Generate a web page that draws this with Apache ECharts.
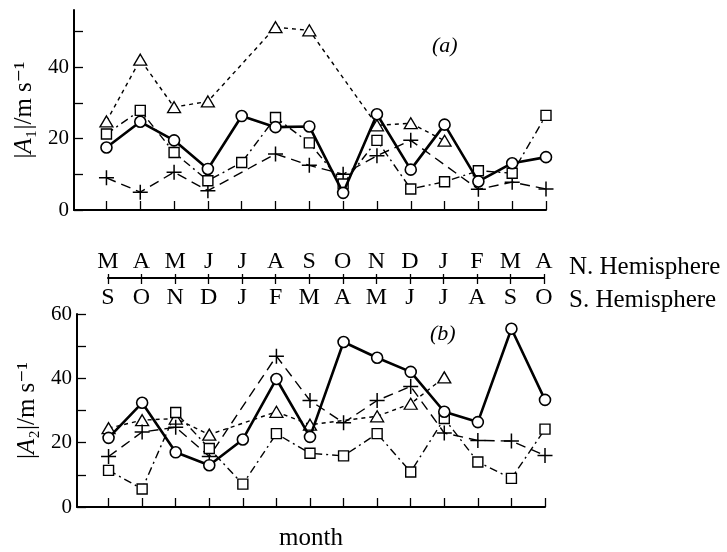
<!DOCTYPE html>
<html>
<head>
<meta charset="utf-8">
<script src="https://cdn.jsdelivr.net/npm/echarts@6/dist/echarts.min.js"></script>
<style>html,body{margin:0;padding:0;background:#fff}#c{width:727px;height:552px}</style>
</head>
<body>
<div id="c"></div>
<script>
// ---- data ----
const monthIdx = [0,1,2,3,4,5,6,7,8,9,10,11,12,13];
const nHemLabels = ['M','A','M','J','J','A','S','O','N','D','J','F','M','A'];
const sHemLabels = ['S','O','N','D','J','F','M','A','M','J','J','A','S','O'];

// panel (a) |A1|
const a1Circle   = [17.5, 24.7, 19.5, 11.5, 26.3, 23.2, 23.4, 4.8, 26.8, 11.3, 23.9, 8.0, 13.1, 14.8];
const a1Square   = [21.3, 27.9, 16.1, 8.2, 13.3, 25.9, 18.8, 7.3, 19.5, 5.9, 7.9, 11.0, 10.3, 26.5];
const a1Cross    = [9.0, 5.0, 10.6, 5.4, null, 15.7, 12.5, 10.0, 15.2, 19.5, null, 5.8, 7.8, 5.9];
const a1Triangle = [24.8, 42.1, 28.8, 30.4, null, 51.2, 50.3, null, 23.7, 24.3, 19.4, null, null, null];

// panel (b) |A2|
const a2Circle   = [21.5, 32.4, 17.0, 13.0, 21.0, 39.8, 21.8, 51.3, 46.4, 42.0, 29.6, 26.4, 55.4, 33.3];
const a2Square   = [11.4, 5.6, 29.4, 18.2, 7.1, 22.8, 16.7, 15.9, 22.8, 10.9, 27.5, 14.0, 8.9, 24.2];
const a2Cross    = [15.7, 23.3, 24.8, 15.7, null, 46.9, 33.1, 26.2, 33.1, 37.5, 23.0, 20.7, 20.5, 16.0];
const a2Triangle = [24.5, 27.0, 27.5, 22.5, null, 29.6, 25.6, null, 28.2, 32.1, 40.3, null, null, null];

const topYLabels = [0, 20, 40];
const topYTicks = [0, 10, 20, 30, 40, 50];
const botYLabels = [0, 20, 40, 60];
const botYTicks = [0, 10, 20, 30, 40, 50, 60];

// ---- helpers ----
const FONT = "'Liberation Serif', 'DejaVu Serif', serif";
function pts(arr){ return arr.map((v,i)=>[monthIdx[i], v]).filter(p=>p[1]!==null); }
const crossPath = 'path://M5,0 L5,10 M0,5 L10,5';

function mk(name, data, gi, kind){
  const base = {
    type:'line', name, xAxisIndex: gi, yAxisIndex: gi, data: pts(data),
    animation:false, z: 3
  };
  if (kind==='circle') Object.assign(base, {
    symbol:'circle', symbolSize:11, z:5,
    lineStyle:{color:'#000', width:2.6, type:'solid'},
    itemStyle:{color:'#fff', borderColor:'#000', borderWidth:1.6}
  });
  if (kind==='square') Object.assign(base, {
    symbol:'rect', symbolSize:10,
    lineStyle:{color:'#000', width:1.4, type:[8,4,2,4]},
    itemStyle:{color:'#fff', borderColor:'#000', borderWidth:1.4}
  });
  if (kind==='triangle') Object.assign(base, {
    symbol:'triangle', symbolSize:[13,11],
    lineStyle:{color:'#000', width:1.4, type:[4,4]},
    itemStyle:{color:'#fff', borderColor:'#000', borderWidth:1.3}
  });
  if (kind==='cross') Object.assign(base, {
    symbol:crossPath, symbolSize:15,
    lineStyle:{color:'#000', width:1.4, type:[10,6]},
    itemStyle:{color:'none', borderColor:'#000', borderWidth:1.5}
  });
  return base;
}

function xAx(gi, minV){
  return {
    type:'value', gridIndex: gi, min: minV, max: 13,
    axisLine:{show:true, onZero:false, lineStyle:{color:'#000', width:2}},
    axisTick:{show:true, inside:true, length:9, lineStyle:{color:'#000', width:1.3}, customValues: monthIdx},
    axisLabel:{show:false}, splitLine:{show:false}
  };
}
function yAx(gi, maxV, labels, ticks, nameRich){
  return {
    type:'value', gridIndex: gi, min:0, max:maxV,
    axisLine:{show:true, onZero:false, lineStyle:{color:'#000', width:2}},
    axisTick:{show:true, inside:true, length:9, lineStyle:{color:'#000', width:1.3}, customValues: ticks},
    axisLabel:{show:true, customValues: labels, color:'#000', fontFamily:FONT, fontSize:21, margin:5},
    splitLine:{show:false},
    name: nameRich, nameLocation:'middle', nameRotate:90, nameGap:36,
    nameTextStyle:{color:'#000', fontFamily:FONT, fontSize:25,
      rich:{i:{fontStyle:'italic', fontFamily:FONT, fontSize:25, color:'#000'}}}
  };
}

const chart = echarts.init(document.getElementById('c'), null, {renderer:'canvas'});
const option = {
  backgroundColor:'#fff',
  animation:false,
  grid:[
    {left:74, top:10, width:472, height:200},
    {left:77, top:314, width:468, height:197.7},
    {left:108, top:277, width:436, height:1}
  ],
  xAxis:[
    xAx(0, -0.96),
    Object.assign(xAx(1, -0.94), {name:'month', nameLocation:'middle', nameGap:19,
      nameTextStyle:{color:'#000', fontFamily:FONT, fontSize:25, verticalAlign:'top'}}),
    { type:'category', gridIndex:2, data:sHemLabels, boundaryGap:false, position:'bottom',
      axisLine:{show:true, onZero:false, lineStyle:{color:'#000', width:2}},
      axisTick:{show:true, inside:false, length:6, alignWithLabel:true, lineStyle:{color:'#000', width:1.3}},
      axisLabel:{show:true, interval:0, color:'#000', fontFamily:FONT, fontSize:24, margin:8},
      splitLine:{show:false} },
    { type:'category', gridIndex:2, data:nHemLabels, boundaryGap:false, position:'top',
      axisLine:{show:false},
      axisTick:{show:true, inside:false, length:4, alignWithLabel:true, lineStyle:{color:'#000', width:1.3}},
      axisLabel:{show:true, interval:0, color:'#000', fontFamily:FONT, fontSize:24, margin:3},
      splitLine:{show:false} }
  ],
  yAxis:[
    yAx(0, 56, topYLabels, topYTicks, '|{i|A}₁|/m s⁻¹'),
    yAx(1, 60, botYLabels, botYTicks, '|{i|A}₂|/m s⁻¹'),
    { type:'value', gridIndex:2, show:false, min:0, max:1 }
  ],
  graphic:[
    {type:'text', left:432, top:35, style:{text:'(a)', font:"italic 22px "+FONT, fill:'#000'}},
    {type:'text', left:430, top:323, style:{text:'(b)', font:"italic 22px "+FONT, fill:'#000'}},
    {type:'text', left:569, top:255, style:{text:'N. Hemisphere', font:"25px "+FONT, fill:'#000'}},
    {type:'text', left:569, top:288, style:{text:'S. Hemisphere', font:"25px "+FONT, fill:'#000'}}
  ],
  series:[
    mk('A1 triangle', a1Triangle, 0, 'triangle'),
    mk('A1 cross', a1Cross, 0, 'cross'),
    mk('A1 square', a1Square, 0, 'square'),
    mk('A1 circle', a1Circle, 0, 'circle'),
    mk('A2 triangle', a2Triangle, 1, 'triangle'),
    mk('A2 cross', a2Cross, 1, 'cross'),
    mk('A2 square', a2Square, 1, 'square'),
    mk('A2 circle', a2Circle, 1, 'circle')
  ]
};
chart.setOption(option);
</script>
</body>
</html>
